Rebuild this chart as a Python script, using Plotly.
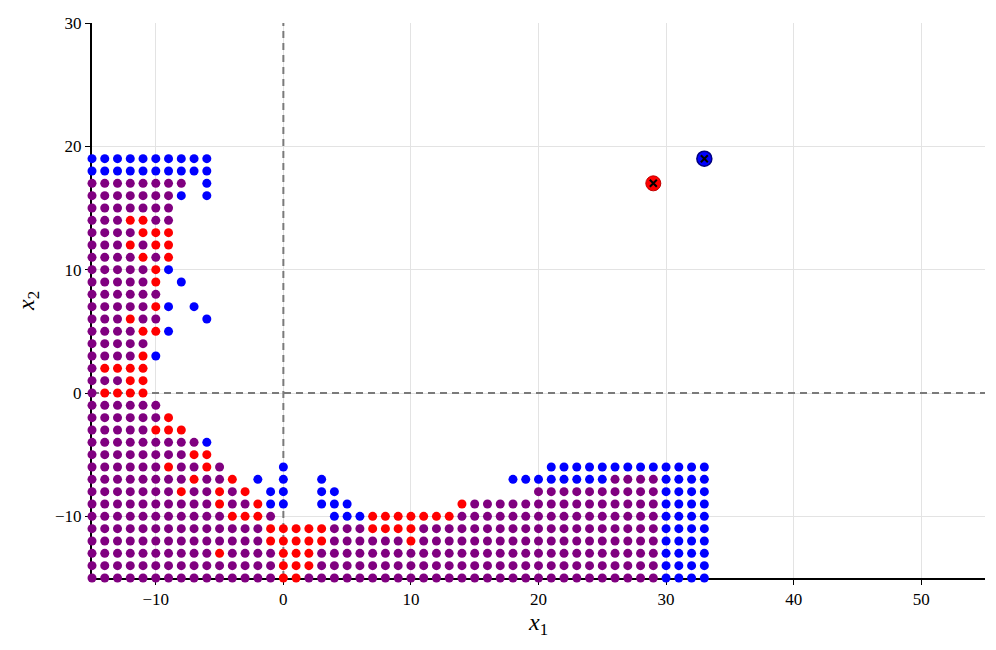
import plotly.graph_objects as go

# класс точки сетки: P - оба (фиолетовый), R - красный, B - синий, "." - нет точки
X_START = -15
ROW_Y = [19, 18, 17, 16, 15, 14, 13, 12, 11, 10, 9, 8, 7, 6, 5, 4, 3, 2, 1, 0,
         -1, -2, -3, -4, -5, -6, -7, -8, -9, -10, -11, -12, -13, -14, -15]
ROWS = [
    "BBBBBBBBBB",
    "BBBBBBBBBB",
    "PPPPPPPP.B",
    "PPPPPPPB.B",
    "PPPPPPP",
    "PPPRRPP",
    "PPPPRRR",
    "PPPRPRR",
    "PPPPRPR",
    "PPPPPRB",
    "PPPPPR.B",
    "PPPPPP",
    "PPPPPRB.B",
    "PPPRPP...B",
    "PPPPRRB",
    "PPPPP",
    "PPPPRB",
    "PRRRR",
    "PPPRR",
    "PRRRR",
    "PPPPPP",
    "PPPPPPR",
    "PPPPPRRR",
    "PPPPPPPPPB",
    "PPPPPPPPRR",
    "PPPPPPRPPRP....B" "...................." "BBBBBBBBBBBBB",
    "PPPPPPPPRPPR.B.B..B" ".............." "BBBBBBBB" "PPPP" "BBBB",
    "PPPPPPPRPPRPR.BB..BB" "..............." "PPPPPPPPPP" "BBBB",
    "PPPPPPPPPPRPPRBB..BBB" "........" "R" "PPPPPPPPPPPPPPP" "BBBB",
    "PPPPPPPPPPP" "RRRP" "...." "BBB" "RRRRRRR" "PPPPPPPPPPPPPPPP" "BBBB",
    "PPPPPPPPPPPPPP" "RRRRR" "PPP" "RRRR" "PPPPPPPPPPPPPPPPPPP" "BBBB",
    "PPPPPPPPPPPPPP" "RRRRR" "PPPPPP" "R" "PPPPPPPPPPPPPPPPPPP" "BBBB",
    "PPPPPPPPPP" "R" "PPPP" "RRR" "PPPPPPPPPPPPPPPPPPPPPPPPPPP" "BBBB",
    "PPPPPPPPPPPPPPP" "RRR" "PPPPPPPPPPPPPPPPPPPPPPPPPPP" "BBBB",
    "PPPPPPPPPPPPPPP" "RR" "PPPPPPPPPPPPPPPPPPPPPPPPPPPP" "BBBB",
]

# оптимумы
RED_OPT = (29, 17)
BLUE_OPT = (33, 19)

COLORS = {"P": "#800080", "R": "#ff0000", "B": "#0000ff"}

points = {k: ([], []) for k in COLORS}
for y, row in zip(ROW_Y, ROWS):
    for i, ch in enumerate(row):
        if ch in points:
            points[ch][0].append(X_START + i)
            points[ch][1].append(y)

fig = go.Figure()

# пунктирные оси x=0, y=0
fig.add_trace(go.Scatter(x=[-15, 55], y=[0, 0], mode="lines",
                         line=dict(color="#7a7a7a", width=2, dash="7px,5px"),
                         hoverinfo="skip"))
fig.add_trace(go.Scatter(x=[0, 0], y=[-15, 30], mode="lines",
                         line=dict(color="#7a7a7a", width=2, dash="7px,5px"),
                         hoverinfo="skip"))

for k in ["P", "R", "B"]:
    fig.add_trace(go.Scatter(x=points[k][0], y=points[k][1], mode="markers",
                             marker=dict(color=COLORS[k], size=9, line=dict(width=0)),
                             cliponaxis=False))

fig.add_trace(go.Scatter(x=[RED_OPT[0]], y=[RED_OPT[1]], mode="markers",
                         marker=dict(color="#ff0000", size=15, line=dict(width=1, color="#c00000"))))
fig.add_trace(go.Scatter(x=[BLUE_OPT[0]], y=[BLUE_OPT[1]], mode="markers",
                         marker=dict(color="#0000ff", size=15, line=dict(width=1.5, color="#000080"))))
fig.add_trace(go.Scatter(x=[RED_OPT[0], BLUE_OPT[0]], y=[RED_OPT[1], BLUE_OPT[1]], mode="markers",
                         marker=dict(symbol="x-thin", size=7, line=dict(width=2, color="black"))))

serif = "Liberation Serif, DejaVu Serif, serif"
axis_font = dict(family=serif, size=17, color="black")
title_font = dict(family=serif, size=24, color="black")
fig.update_layout(
    width=996, height=650,
    margin=dict(l=84, r=19, t=15, b=80, autoexpand=False),
    plot_bgcolor="white", paper_bgcolor="white",
    showlegend=False,
    xaxis=dict(range=[-15, 55], tickvals=[-10, 0, 10, 20, 30, 40, 50],
               showgrid=True, gridcolor="#e3e3e3", gridwidth=1, zeroline=False,
               showline=True, linecolor="black", linewidth=2,
               ticks="outside", ticklen=5, tickcolor="black", tickwidth=1,
               tickfont=axis_font, layer="below traces", automargin=False,
               title=dict(text="<i>x</i><sub>1</sub>", standoff=5, font=title_font)),
    yaxis=dict(range=[-15, 30], tickvals=[-10, 0, 10, 20, 30],
               showgrid=True, gridcolor="#e3e3e3", gridwidth=1, zeroline=False,
               showline=True, linecolor="black", linewidth=2,
               ticks="outside", ticklen=5, tickcolor="black", tickwidth=1,
               tickfont=axis_font, layer="below traces", automargin=False,
               title=dict(text="<i>x</i><sub>2</sub>", standoff=14, font=title_font)),
)

fig.write_html("out.html")
